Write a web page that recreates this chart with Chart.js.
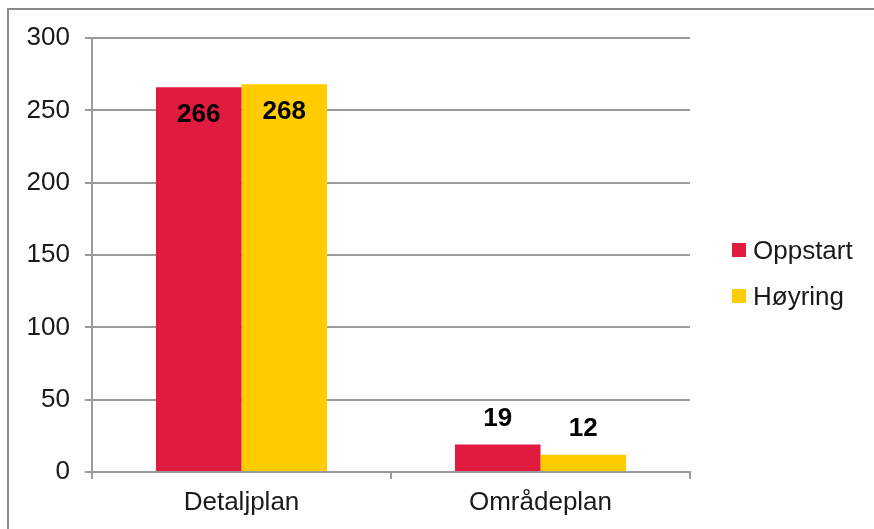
<!DOCTYPE html>
<html>
<head>
<meta charset="utf-8">
<script src="https://cdn.jsdelivr.net/npm/chart.js@4/dist/chart.umd.min.js"></script>
<style>
  html, body { margin: 0; padding: 0; width: 874px; height: 529px; overflow: hidden; background: #fff; }
  #frame { position: absolute; left: 7px; top: 8px; width: 900px; height: 600px; border: 2px solid #8a8a8a; }
  #wrap  { position: absolute; left: 0; top: 0; width: 874px; height: 529px; }
  #legend { position: absolute; left: 732px; top: 235px; font: 26px 'Liberation Sans', Arial, sans-serif; color: #1a1a1a; }
  .leg-row { display: flex; align-items: center; height: 30px; margin-bottom: 16px; }
  .leg-box { width: 14px; height: 14px; margin-right: 7px; flex-shrink: 0; }
</style>
</head>
<body>
<div id="frame"></div>
<div id="wrap"><canvas id="chart" width="874" height="529"></canvas></div>
<div id="legend"></div>

<script>
/* ============================================================
   DATA
   ============================================================ */

const categories   = ['Detaljplan', 'Områdeplan'];
const seriesNames  = ['Oppstart', 'Høyring'];
const oppstart     = [266, 19];
const hoyring      = [268, 12];
const seriesColors = ['#E11A40', '#FFCC00'];
const yTicks       = [0, 50, 100, 150, 200, 250, 300];

const FONT = "'Liberation Sans', Arial, sans-serif";

/* ============================================================
   VALUE LABELS (inside top for tall bars, above for short ones)
   ============================================================ */

const valueLabels = {
  id: 'valueLabels',
  afterDatasetsDraw(chart) {
    const ctx = chart.ctx;
    ctx.save();
    ctx.font = 'bold 26px ' + FONT;
    ctx.fillStyle = '#000';
    ctx.textAlign = 'center';
    ctx.textBaseline = 'middle';
    chart.data.datasets.forEach((ds, di) => {
      chart.getDatasetMeta(di).data.forEach((bar, i) => {
        const h = bar.base - bar.y;
        const y = h > 60 ? bar.y + 28 : bar.y - 26;
        ctx.fillText(String(ds.data[i]), bar.x, y);
      });
    });
    ctx.restore();
  },
};

/* ============================================================
   CHART
   ============================================================ */

Chart.defaults.font.family = FONT;
Chart.defaults.color       = '#1a1a1a';

new Chart(document.getElementById('chart'), {
  type: 'bar',
  data: {
    labels: categories,
    datasets: [
      { label: seriesNames[0], data: oppstart, backgroundColor: seriesColors[0] },
      { label: seriesNames[1], data: hoyring,  backgroundColor: seriesColors[1] },
    ],
  },
  options: {
    responsive: false,
    animation: false,
    categoryPercentage: 0.572,
    barPercentage: 1,
    layout: { padding: { top: 38, right: 184, left: 0, bottom: 0 } },
    plugins: {
      legend: { display: false },
      tooltip: { enabled: false },
    },
    scales: {
      x: {
        grid: { offset: true, drawOnChartArea: false, drawTicks: true, tickLength: 7, color: '#9a9a9a', lineWidth: 2 },
        border: { color: '#9a9a9a', width: 2 },
        ticks: { font: { size: 26 }, padding: 8, color: '#1a1a1a' },
        afterFit: s => { s.height = 57; },
      },
      y: {
        min: 0,
        max: 300,
        afterBuildTicks: s => { s.ticks = yTicks.map(v => ({ value: v })); },
        grid: { color: '#9a9a9a', lineWidth: 2, tickLength: 7 },
        border: { color: '#9a9a9a', width: 2 },
        ticks: { font: { size: 26 }, padding: 15, color: '#1a1a1a' },
        afterFit: s => { s.width = 92; },
      },
    },
  },
  plugins: [valueLabels],
});

/* ============================================================
   LEGEND
   ============================================================ */

document.getElementById('legend').innerHTML = seriesNames.map((name, i) => `
  <div class="leg-row">
    <div class="leg-box" style="background:${seriesColors[i]}"></div>
    <span>${name}</span>
  </div>`).join('');
</script>
</body>
</html>
